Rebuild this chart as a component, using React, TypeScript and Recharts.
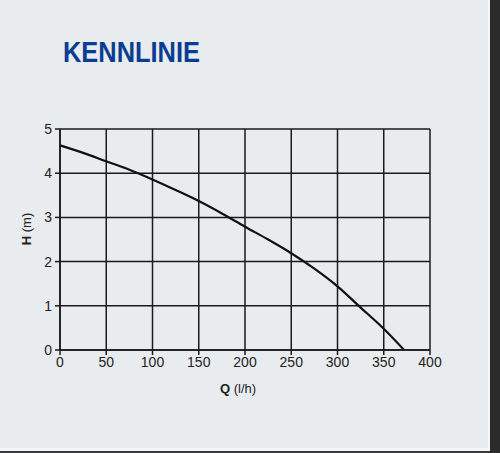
import { CartesianGrid, Line, LineChart, XAxis, YAxis } from "recharts";

const flowValues = [0, 25, 50, 75, 100, 125, 150, 175, 200, 225, 250, 275, 300, 325, 350, 372];
const headValues = [4.63, 4.46, 4.27, 4.08, 3.86, 3.62, 3.37, 3.09, 2.79, 2.5, 2.19, 1.84, 1.44, 0.96, 0.48, 0];
const xTicks = [0, 50, 100, 150, 200, 250, 300, 350, 400];
const yTicks = [0, 1, 2, 3, 4, 5];

const chartData = flowValues.map((q, i) => ({ q, h: headValues[i] }));

const font = "'Liberation Sans', Arial, Helvetica, sans-serif";
const ink = "#1a1a1a";

export default function App() {
  return (
    <div style={{ position: "fixed", left: 0, top: 0, width: 500, height: 453, background: "#e9ecef", fontFamily: font }}>
      <LineChart width={500} height={453} data={chartData} margin={{ top: 129, right: 70, bottom: 73, left: 0 }}>
        <CartesianGrid stroke={ink} strokeWidth={1.5} />
        <XAxis
          dataKey="q"
          type="number"
          domain={[0, 400]}
          ticks={xTicks}
          height={30}
          tickSize={5}
          tickMargin={2}
          stroke={ink}
          strokeWidth={1.5}
          tick={{ fill: "#222", fontSize: 14, fontFamily: font }}
        />
        <YAxis
          type="number"
          domain={[0, 5]}
          ticks={yTicks}
          width={60}
          tickSize={5}
          tickMargin={3}
          stroke={ink}
          strokeWidth={1.5}
          tick={{ fill: "#222", fontSize: 14, fontFamily: font }}
        />
        <Line dataKey="h" type="monotone" stroke="#111" strokeWidth={2.2} dot={false} isAnimationActive={false} />
      </LineChart>
      <svg width={500} height={453} style={{ position: "absolute", left: 0, top: 0, pointerEvents: "none" }}>
        <text x={63} y={62} fontSize={29} fontWeight={700} fill="#0a3d91" textLength={137} lengthAdjust="spacingAndGlyphs" fontFamily={font}>
          KENNLINIE
        </text>
        <text x={238} y={393} fontSize={13} textAnchor="middle" fill="#222" fontFamily={font}>
          <tspan fontWeight={700}>Q</tspan> (l/h)
        </text>
        <text x={0} y={0} fontSize={13} textAnchor="middle" fill="#222" fontFamily={font} transform="translate(31 229) rotate(-90)">
          <tspan fontWeight={700}>H</tspan> (m)
        </text>
      </svg>
      <div style={{ position: "absolute", left: 488, top: 0, width: 2, height: 453, background: "#f6f7f8" }} />
      <div style={{ position: "absolute", left: 490, top: 0, width: 10, height: 453, background: "#2b2b2b" }} />
      <div style={{ position: "absolute", left: 0, top: 448, width: 490, height: 3, background: "#f2f4f5" }} />
      <div style={{ position: "absolute", left: 0, top: 451, width: 490, height: 2, background: "#3a3a3a" }} />
    </div>
  );
}
